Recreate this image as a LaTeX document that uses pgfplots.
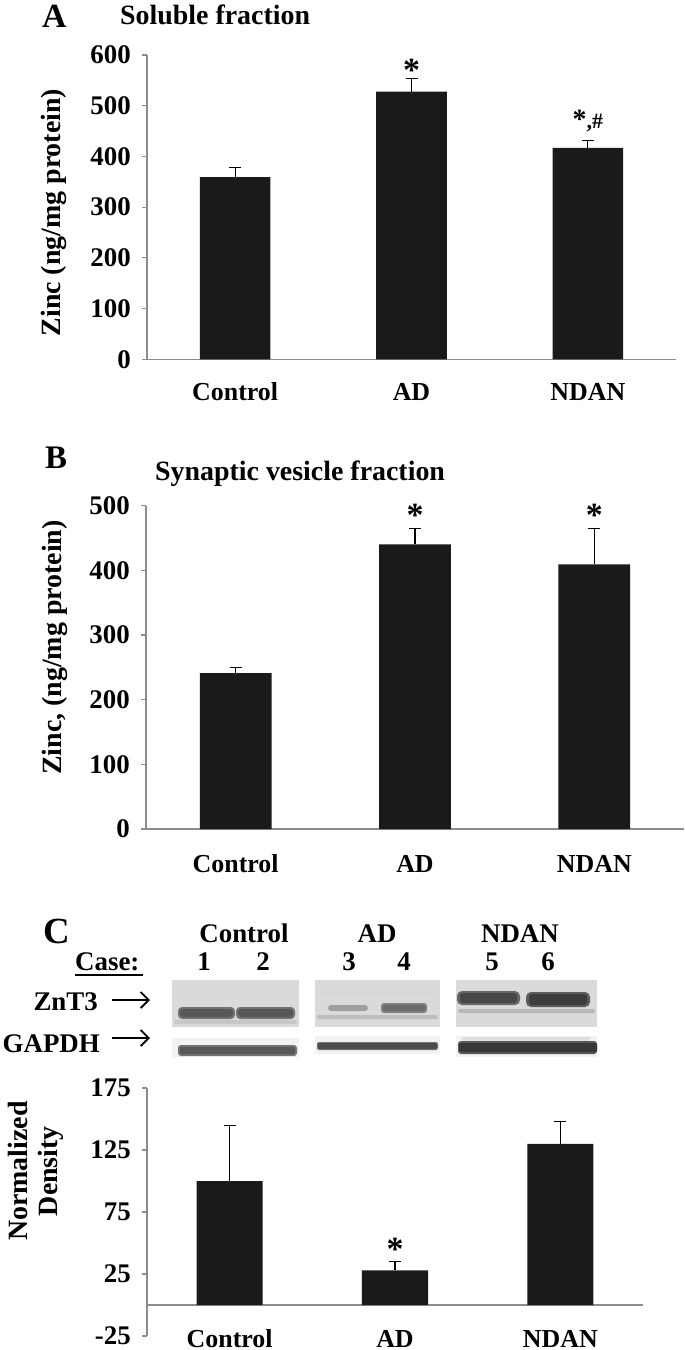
\documentclass[border=0pt]{standalone}
\usepackage{fontspec}
\setmainfont{Liberation Serif}
\usepackage{pgfplots}
\pgfplotsset{compat=1.18}
\usetikzlibrary{arrows.meta}
\definecolor{axgray}{HTML}{8C8C8C}
\definecolor{barblack}{HTML}{1A1A1A}
\definecolor{blotbg}{HTML}{DADADA}
\newcommand{\fs}[1]{\fontsize{#1}{#1}\selectfont\bfseries}

\pgfplotsset{
  common/.style={
    scale only axis,
    anchor=south west,
    clip=false,
    xmin=-0.5, xmax=2.5,
    xtick={0,1,2},
    xticklabels={Control,AD,NDAN},
    axis lines*=left,
    axis line style={axgray, line width=1.3bp},
    tick align=outside,
    major tick length=5bp,
    xtick style={draw=none},
    ytick style={axgray, line width=1.2bp},
    /pgf/number format/assume math mode=true,
    yticklabel style={font=\fs{27}, anchor=east, inner sep=0pt, xshift=-11bp},
    xticklabel style={font=\fs{26}, anchor=base},
    ylabel style={font=\fs{28}, anchor=center},
  },
  zbars/.style={
    ybar, fill=barblack, draw=none, bar width=0.4,
    error bars/.cd, y dir=plus, y explicit,
    error bar style={black, line width=1.3bp},
    error mark options={rotate=90, black, line width=1.3bp, mark size=6bp},
  },
}

\begin{document}
\begin{tikzpicture}
\path[use as bounding box] (0bp,0bp) rectangle (685bp,-1350bp);

% ---------- Panel A ----------
\node[anchor=base west, inner sep=0pt, font=\fs{34}] at (42bp,-27bp) {A};
\node[anchor=base west, inner sep=0pt, font=\fs{28}] at (120bp,-24bp) {Soluble fraction};
\begin{axis}[common,
  at={(147bp,-359.3bp)}, width=529bp, height=304.3bp,
  ymin=0, ymax=600, ytick={0,100,200,300,400,500,600},
  xticklabel style={yshift=-36bp},
  ylabel={Zinc (ng/mg protein)},
  ylabel style={at={(axis description cs:-0.176,0.482)}}]
\addplot[zbars] coordinates {(0,359) +- (0,19) (1,528) +- (0,25) (2,417) +- (0,15)};
\node[anchor=base, inner sep=0pt, font=\fs{34}] at (axis cs:1,548) {*};
\node[anchor=base, inner sep=0pt, font=\fs{22}] at (axis cs:2,456) {{\fontsize{28}{28}\selectfont *},\#};
\end{axis}

% ---------- Panel B ----------
\node[anchor=base west, inner sep=0pt, font=\fs{33}] at (45bp,-468bp) {B};
\node[anchor=base west, inner sep=0pt, font=\fs{28}] at (155bp,-480bp) {Synaptic vesicle fraction};
\begin{axis}[common,
  at={(146bp,-829bp)}, width=538bp, height=323.5bp,
  ymin=0, ymax=500, ytick={0,100,200,300,400,500},
  xticklabel style={yshift=-38bp},
  ylabel={Zinc, (ng/mg protein)},
  ylabel style={at={(axis description cs:-0.169,0.561)}}]
\addplot[zbars] coordinates {(0,241) +- (0,8.5) (1,440) +- (0,24) (2,409) +- (0,55)};
\node[anchor=base, inner sep=0pt, font=\fs{34}] at (axis cs:1,467) {*};
\node[anchor=base, inner sep=0pt, font=\fs{34}] at (axis cs:2,467) {*};
\end{axis}

% ---------- Panel C: blot ----------
\node[anchor=base west, inner sep=0pt, font=\fs{37}] at (43bp,-943bp) {C};
\node[anchor=base, inner sep=0pt, font=\fs{27}] at (244bp,-942bp) {Control};
\node[anchor=base, inner sep=0pt, font=\fs{27}] at (377bp,-942bp) {AD};
\node[anchor=base, inner sep=0pt, font=\fs{27}] at (520bp,-942bp) {NDAN};
\node[anchor=base west, inner sep=0pt, font=\fs{27}] at (75bp,-970bp) {Case:};
\draw[black, line width=1.5bp] (75bp,-975bp) -- (143bp,-975bp);
\foreach \xx/\nn in {204/1,263/2,349/3,404/4,492/5,548/6}
  \node[anchor=base, inner sep=0pt, font=\fs{27}] at (\xx bp,-970bp) {\nn};
\node[anchor=base east, inner sep=0pt, font=\fs{27}] at (98bp,-1010bp) {ZnT3};
\node[anchor=base east, inner sep=0pt, font=\fs{27}] at (100bp,-1052bp) {GAPDH};
\draw[line width=1.8bp, -{Straight Barb[length=8bp, width=16bp, line width=1.8bp]}] (112bp,-1000bp) -- (150bp,-1000bp);
\draw[line width=1.8bp, -{Straight Barb[length=8bp, width=16bp, line width=1.8bp]}] (112bp,-1038bp) -- (150bp,-1038bp);
% ZnT3 blot panels
\fill[blotbg] (172bp,-980bp) rectangle (299bp,-1027bp);
\fill[blotbg] (315bp,-980bp) rectangle (440bp,-1027bp);
\fill[blotbg] (456bp,-980bp) rectangle (597bp,-1027bp);
% control bands
\fill[black!22, rounded corners=2bp] (174bp,-1020bp) rectangle (297bp,-1024bp);
\fill[black!55, rounded corners=4bp] (178bp,-1007bp) rectangle (235bp,-1019bp);
\fill[black!55, rounded corners=4bp] (236bp,-1007bp) rectangle (295bp,-1019bp);
\fill[black!66, rounded corners=3bp] (180bp,-1009bp) rectangle (233bp,-1017bp);
\fill[black!66, rounded corners=3bp] (238bp,-1009bp) rectangle (293bp,-1017bp);
% AD bands
\fill[black!16] (317bp,-993bp) rectangle (438bp,-995bp);
\fill[black!26, rounded corners=2bp] (317bp,-1015bp) rectangle (438bp,-1019bp);
\fill[black!38, rounded corners=3bp] (328bp,-1005bp) rectangle (368bp,-1011bp);
\fill[black!50, rounded corners=3bp] (381bp,-1003bp) rectangle (427bp,-1013bp);
\fill[black!58, rounded corners=2bp] (383bp,-1005bp) rectangle (425bp,-1011bp);
% NDAN bands
\fill[black!28, rounded corners=2bp] (458bp,-1009bp) rectangle (595bp,-1013bp);
\fill[black!60, rounded corners=5bp] (457bp,-991bp) rectangle (520bp,-1005bp);
\fill[black!64, rounded corners=5bp] (526bp,-992bp) rectangle (590bp,-1007bp);
\fill[black!72, rounded corners=3bp] (460bp,-993bp) rectangle (517bp,-1003bp);
\fill[black!76, rounded corners=3bp] (529bp,-994bp) rectangle (587bp,-1005bp);
% GAPDH strips
\fill[black!5] (172bp,-1038bp) rectangle (299bp,-1057bp);
\fill[black!5] (315bp,-1036bp) rectangle (440bp,-1054bp);
\fill[black!5] (456bp,-1036bp) rectangle (597bp,-1057bp);
\fill[black!55, rounded corners=3bp] (178bp,-1045bp) rectangle (297bp,-1056bp);
\fill[black!66, rounded corners=2bp] (180bp,-1047bp) rectangle (295bp,-1054bp);
\fill[black!55, rounded corners=2bp] (317bp,-1042bp) rectangle (438bp,-1050bp);
\fill[black!70, rounded corners=2bp] (318bp,-1043bp) rectangle (437bp,-1049bp);
\fill[black!12] (462bp,-1037bp) rectangle (590bp,-1042bp);
\fill[black!65, rounded corners=3bp] (458bp,-1041bp) rectangle (597bp,-1054bp);
\fill[black!78, rounded corners=2bp] (459bp,-1043bp) rectangle (597bp,-1052bp);

% ---------- Panel C: chart ----------
\begin{axis}[common,
  at={(147bp,-1336bp)}, width=496bp, height=248bp,
  ymin=-25, ymax=175, ytick={-25,25,75,125,175},
  x axis line style={draw=none},
  xticklabel style={yshift=-6bp},
  ylabel={Normalized\\Density},
  ylabel style={align=center, font=\fontsize{28}{30}\selectfont\bfseries,
    at={(axis description cs:-0.224,0.665)}}]
\draw[axgray, line width=1.3bp] (axis cs:-0.5,0) -- (axis cs:2.5,0);
\addplot[zbars] coordinates {(0,100) +- (0,45) (1,28) +- (0,7) (2,130) +- (0,18)};
\node[anchor=base, inner sep=0pt, font=\fs{34}] at (axis cs:1,36) {*};
\end{axis}
\end{tikzpicture}
\end{document}
